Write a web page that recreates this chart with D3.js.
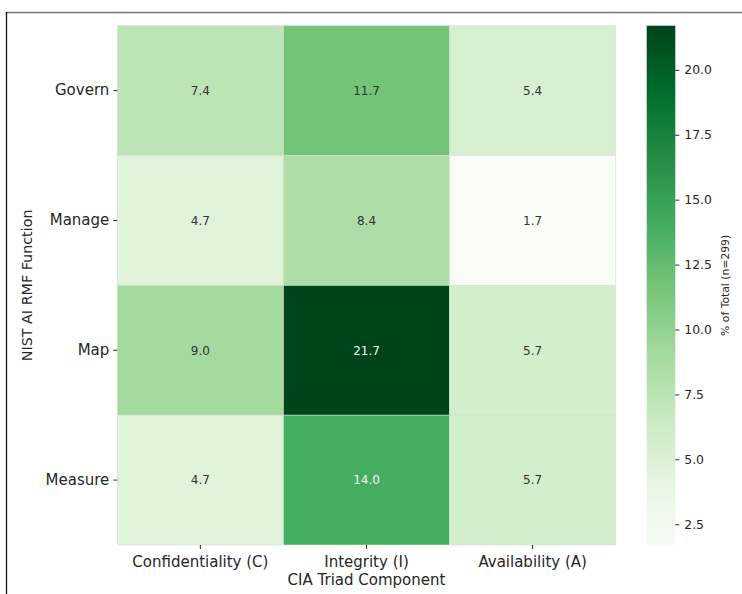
<!DOCTYPE html>
<html>
<head>
<meta charset="utf-8">
<script src="https://cdn.jsdelivr.net/npm/d3@7"></script>
<style>
  html, body { margin: 0; padding: 0; background: #fff; }
  svg { display: block; font-family: "DejaVu Sans", sans-serif; }
</style>
</head>
<body>
<svg id="chart" width="742" height="594"></svg>
<script>
// NIST AI RMF function × CIA triad component, share of total (n=299)
const functions = ["Govern", "Manage", "Map", "Measure"];
const components = ["Confidentiality (C)", "Integrity (I)", "Availability (A)"];
const governValues = [7.4, 11.7, 5.4];
const manageValues = [4.7, 8.4, 1.7];
const mapValues = [9.0, 21.7, 5.7];
const measureValues = [4.7, 14.0, 5.7];
const colorbarTicks = [2.5, 5.0, 7.5, 10.0, 12.5, 15.0, 17.5, 20.0];
// ColorBrewer Greens, the stops of the sequential colour map
const greens = ["#f7fcf5", "#e5f5e0", "#c7e9c0", "#a1d99b", "#74c476",
                "#41ab5d", "#238b45", "#006d2c", "#00441b"];

const rows = [governValues, manageValues, mapValues, measureValues];
const cells = [];
rows.forEach((vals, r) => vals.forEach((v, c) =>
  cells.push({ row: functions[r], col: components[c], value: v })));

const all = cells.map(d => d.value);
const vmin = d3.min(all), vmax = d3.max(all);

const svg = d3.select("#chart");
const ink = "#262626";

// frame edges
svg.append("line").attr("x1", 6).attr("x2", 742).attr("y1", 12.5).attr("y2", 12.5)
  .attr("stroke", "#777").attr("stroke-width", 1.5);
svg.append("line").attr("x1", 6.5).attr("x2", 6.5).attr("y1", 12).attr("y2", 594)
  .attr("stroke", "#111").attr("stroke-width", 1.3);

const plot = { left: 117.3, right: 615.7, top: 25.7, bottom: 545 };

const x = d3.scaleBand().domain(components).range([plot.left, plot.right]).padding(0);
const y = d3.scaleBand().domain(functions).range([plot.top, plot.bottom]).padding(0);

// linear RGB interpolation across the 9 stops
const t = d3.scaleLinear().domain([vmin, vmax]).range([0, 1]).clamp(true);
const stopPos = greens.map((_, i) => i / (greens.length - 1));
const cmap = d3.scaleLinear().domain(stopPos).range(greens).interpolate(d3.interpolateRgb);
const color = v => cmap(t(v));

function luminance(col) {
  const c = d3.rgb(col);
  const f = u => { u /= 255; return u <= 0.03928 ? u / 12.92 : Math.pow((u + 0.055) / 1.055, 2.4); };
  return 0.2126 * f(c.r) + 0.7152 * f(c.g) + 0.0722 * f(c.b);
}

const g = svg.append("g");
g.selectAll("rect.cell").data(cells).join("rect")
  .attr("class", "cell")
  .attr("x", d => x(d.col)).attr("y", d => y(d.row))
  .attr("width", x.bandwidth()).attr("height", y.bandwidth())
  .attr("fill", d => color(d.value))
  .attr("stroke", "#d8dcd8").attr("stroke-width", 0.6);

g.selectAll("text.annot").data(cells).join("text")
  .attr("class", "annot")
  .attr("x", d => x(d.col) + x.bandwidth() / 2)
  .attr("y", d => y(d.row) + y.bandwidth() / 2)
  .attr("dy", "0.36em")
  .attr("text-anchor", "middle")
  .attr("font-size", 12)
  .attr("fill", d => luminance(color(d.value)) > 0.408 ? "#333333" : "#f5f5f5")
  .text(d => d.value.toFixed(1));

// axes
const xAxis = d3.axisBottom(x).tickSize(4).tickPadding(4);
const yAxis = d3.axisLeft(y).tickSize(4).tickPadding(4);

const gx = svg.append("g").attr("transform", `translate(0,${plot.bottom})`).call(xAxis);
const gy = svg.append("g").attr("transform", `translate(${plot.left},0)`).call(yAxis);
[gx, gy].forEach(a => {
  a.select(".domain").remove();
  a.selectAll(".tick line").attr("stroke", ink).attr("stroke-width", 1);
  a.selectAll(".tick text").attr("font-size", 15).attr("fill", ink)
    .attr("font-family", "DejaVu Sans, sans-serif");
});
gx.selectAll(".tick text").attr("dy", "0.93em");

svg.append("text")
  .attr("x", (plot.left + plot.right) / 2).attr("y", 585)
  .attr("text-anchor", "middle").attr("font-size", 15).attr("fill", ink)
  .text("CIA Triad Component");

svg.append("text")
  .attr("transform", `translate(32,${(plot.top + plot.bottom) / 2}) rotate(-90)`)
  .attr("text-anchor", "middle").attr("font-size", 14.3).attr("fill", ink)
  .text("NIST AI RMF Function");

// colour bar
const cb = { left: 646.7, width: 28.6 };
const cy = d3.scaleLinear().domain([vmin, vmax]).range([plot.bottom, plot.top]);

const defs = svg.append("defs");
const grad = defs.append("linearGradient").attr("id", "greens-grad")
  .attr("x1", 0).attr("x2", 0).attr("y1", 1).attr("y2", 0);
grad.selectAll("stop").data(greens).join("stop")
  .attr("offset", (d, i) => stopPos[i]).attr("stop-color", d => d);

svg.append("rect")
  .attr("x", cb.left).attr("y", plot.top)
  .attr("width", cb.width).attr("height", plot.bottom - plot.top)
  .attr("fill", "url(#greens-grad)");

const cAxis = d3.axisRight(cy).tickValues(colorbarTicks).tickFormat(d3.format(".1f"))
  .tickSize(4).tickPadding(5);
const gc = svg.append("g").attr("transform", `translate(${cb.left + cb.width},0)`).call(cAxis);
gc.select(".domain").remove();
gc.selectAll(".tick line").attr("stroke", ink);
gc.selectAll(".tick text").attr("font-size", 12.4).attr("fill", ink)
  .attr("font-family", "DejaVu Sans, sans-serif");

svg.append("text")
  .attr("transform", `translate(729,${(plot.top + plot.bottom) / 2}) rotate(-90)`)
  .attr("text-anchor", "middle").attr("font-size", 10.8).attr("fill", ink)
  .text("% of Total (n=299)");
</script>
</body>
</html>
